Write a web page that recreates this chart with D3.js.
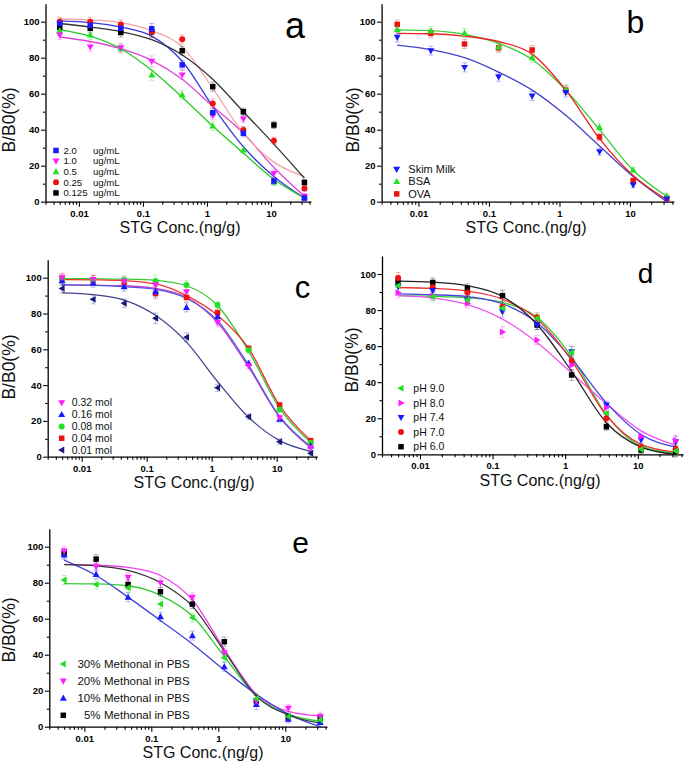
<!DOCTYPE html>
<html><head><meta charset="utf-8">
<script src="https://cdn.jsdelivr.net/npm/d3@7"></script>
<style>body{margin:0;background:#fff;} svg{display:block;font-family:"Liberation Sans",Arial,sans-serif;}</style>
</head><body><svg id="chart" width="689" height="765"></svg>
<script>
// ---------- shared ----------
const conc = [0.005, 0.015, 0.045, 0.137, 0.41, 1.23, 3.7, 11.1, 33.3];
const xTickValues = [0.01, 0.1, 1, 10];
const xTickLabels = ["0.01", "0.1", "1", "10"];
const yTickValues = [0, 20, 40, 60, 80, 100];
const yTickLabels = ["0", "20", "40", "60", "80", "100"];
const xTitleText = "STG Conc.(ng/g)";
const yTitleText = "B/B0(%)";

// ---------- panel a ----------
const aNames = ["2.0", "1.0", "0.5", "0.25", "0.125"];
const aUnit = "ug/mL";
const a20 = [99, 98, 96.3, 96, 76, 49.4, 38, 11.5, 2];
const a20Fit = [100.5, 99.5, 97, 92, 78, 53, 30.5, 14, 2];
const a10 = [92.6, 86, 85.5, 78, 70.4, 48, 46, 15.7, 3];
const a10Fit = [91.5, 89, 85, 78.5, 68, 53, 38, 19, 3];
const a05 = [95, 92.6, 85, 70.4, 59.3, 42, 28.7, 11, 2.5];
const a05Fit = [95.5, 92, 85, 73, 58, 42, 27, 12.5, 2];
const a025 = [100, 100, 98.5, 94.4, 90.2, 54.6, 39.8, 33.9, 7.4];
const a025Fit = [101.5, 101, 99.5, 95, 86, 63, 38, 22, 14];
const a0125 = [96.9, 96.3, 94, 94.4, 83.9, 63.9, 50, 42.6, 10.7];
const a0125Fit = [99, 97, 94.5, 90, 81.5, 68, 50, 32, 13];
const aErr = [2.5, 2.5, 2.5, 3, 2.5, 2.5, 2, 2, 1.5];

// ---------- panel b ----------
const bNames = ["Skim Milk", "BSA", "OVA"];
const bSkim = [91.3, 83.9, 74.6, 69.4, 58.7, 60.7, 27.8, 9.3, 1.5];
const bSkimFit = [87, 84.5, 80, 72, 62, 48, 31, 14, 0];
const bBSA = [95.7, 94.8, 93.7, 86, 80, 62.4, 41.3, 17.6, 3.1];
const bBSAFit = [95.5, 95, 93, 88, 79, 62, 40, 17.5, 3];
const bOVA = [98.5, 93.5, 87.6, 85.5, 84.3, 62, 36, 11.7, 1.8];
const bOVAFit = [93.5, 93.3, 92, 89, 82, 62, 35, 14.5, 1];
const bErr = [2.5, 2.5, 2.5, 2.5, 2.5, 2.5, 2, 1.5, 1.5];

// ---------- panel c ----------
const cNames = ["0.32 mol", "0.16 mol", "0.08 mol", "0.04 mol", "0.01 mol"];
const c032 = [100, 99, 98, 96, 92.2, 74.9, 50.8, 21.8, 5];
const c032Fit = [96, 95.8, 95.5, 94, 89, 75, 50, 22, 5];
const c016 = [98.3, 97.2, 95, 92.2, 83.4, 78.2, 52.1, 20.9, 6];
const c016Fit = [96, 95.7, 95, 93.5, 88.5, 76, 51, 22.5, 5.5];
const c008 = [99, 98.7, 98.7, 98.1, 95.9, 84.7, 59.6, 26.4, 7.8];
const c008Fit = [99.5, 99.4, 99.2, 98.5, 95.5, 84.5, 59, 27, 8];
const c004 = [99.6, 98.7, 97.4, 91.2, 89, 80.4, 60.5, 28.9, 8.9];
const c004Fit = [99, 98.8, 98.3, 96.5, 90, 79, 60.5, 28.5, 9];
const c001 = [94, 87.9, 85.7, 77.3, 66.7, 38.5, 22.3, 8.4, 1.9];
const c001Fit = [91.5, 90.5, 87.5, 79, 64, 42, 22, 9, 3];
const cErr = [2.5, 2.5, 2.5, 3, 2.5, 2, 1.5, 1.5, 1.5];

// ---------- panel d ----------
const dNames = ["pH 9.0", "pH 8.0", "pH 7.4", "pH 7.0", "pH 6.0"];
const d90 = [93.5, 87.4, 85.6, 81, 75.4, 56.6, 22.7, 2.8, 1.8];
const d90Fit = [88, 87.6, 86.8, 84.2, 76, 54, 22, 4.5, 0.5];
const d80 = [89.6, 87.8, 83.7, 67.8, 63.4, 49.5, 26, 9.8, 7.6];
const d80Fit = [88, 86.8, 83, 75, 62, 45, 28, 13, 5];
const d74 = [93, 90.8, 85.6, 79.1, 71.7, 56.9, 27.4, 8, 7];
const d74Fit = [89, 88.5, 87.5, 83.5, 73, 53, 28.5, 11, 4];
const d70 = [97.8, 92.6, 89.8, 81.9, 76, 51.8, 20, 3.9, 2.8];
const d70Fit = [92.5, 92, 90.5, 86, 75, 52, 21.5, 5.5, 1.2];
const d60 = [96, 95.3, 92, 88, 71.7, 44, 15.3, 2.4, 1.5];
const d60Fit = [96, 95.5, 93.5, 87.5, 72, 46, 17.5, 4, 0];
const dErr = [3, 2.5, 2.5, 3, 2.5, 3, 2, 2, 3];

// ---------- panel e ----------
const ePct = ["30%", "20%", "10%", "5%"];
const eRest = "Methonal in PBS";
const e30 = [81.5, 79, 77.2, 68.1, 60.6, 38.3, 15.7, 5.6, 3.7];
const e30Fit = [79.5, 79.3, 78.3, 73, 61.5, 39, 17, 7, 3];
const e20 = [97.6, 88.9, 83, 80, 71.9, 41.1, 14.4, 10.2, 5.6];
const e20Fit = [90.2, 89.8, 88.5, 84, 70.5, 43, 18, 8.5, 6];
const e10 = [95.4, 84.6, 71.9, 61.1, 50.6, 33.3, 12.4, 4.1, 2.4];
const e10Fit = [92.5, 84, 72, 59, 46, 31.5, 18, 7, 0];
const e5 = [96.3, 93.1, 79, 75, 68.1, 47.2, 14.4, 5.2, 4.6];
const e5Fit = [90, 89.3, 86.8, 80, 67, 42, 17, 6.5, 2];
const eErr = [2.5, 2.5, 2.5, 2.5, 2.5, 2.5, 3, 2, 2.5];

// ---------- colours ----------
const C = {
  blue: "#1a1aff", magenta: "#ff1aff", green: "#22e022", red: "#ee1111",
  black: "#000000", navy: "#1a1a7a"
};

// ---------- drawing ----------
const svg = d3.select("#chart");

const shapes = {
  square: s => `M${-s/2},${-s/2}h${s}v${s}h${-s}Z`,
  triUp: s => `M0,${-s*0.6}L${s*0.58},${s*0.42}L${-s*0.58},${s*0.42}Z`,
  triDown: s => `M0,${s*0.6}L${s*0.58},${-s*0.42}L${-s*0.58},${-s*0.42}Z`,
  triLeft: s => `M${-s*0.6},0L${s*0.42},${-s*0.58}L${s*0.42},${s*0.58}Z`,
  triRight: s => `M${s*0.6},0L${-s*0.42},${-s*0.58}L${-s*0.42},${s*0.58}Z`,
  circle: s => `M${-s/2},0A${s/2},${s/2} 0 1,0 ${s/2},0A${s/2},${s/2} 0 1,0 ${-s/2},0Z`
};
const MS = 6;

function marker(g, shape, color, x, y) {
  g.append("path").attr("d", shapes[shape](shape === "square" ? 5.5 : MS))
    .attr("transform", `translate(${x},${y})`).attr("fill", color);
}

function drawPanel(cfg) {
  const g = svg.append("g");
  const x = d3.scaleLog().domain([0.003, 42]).range([cfg.left, cfg.left + cfg.width]);
  const unit = (cfg.y0 - cfg.y100) / 100;
  const y = d3.scaleLinear().domain([0, 110]).range([cfg.y0, cfg.y0 - 110 * unit]);

  // axes
  const minorX = [];
  [0.001, 0.01, 0.1, 1, 10].forEach(dec => {
    for (let k = 2; k <= 9; k++) { const v = k * dec; if (v >= 0.003 && v <= 42) minorX.push(v); }
  });
  const gx = g.append("g").attr("transform", `translate(0,${cfg.y0})`);
  gx.call(d3.axisBottom(x).tickValues(xTickValues).tickFormat((d, i) => xTickLabels[i])
      .tickSize(5).tickSizeOuter(0).tickPadding(3.3));
  gx.append("g").call(d3.axisBottom(x).tickValues(minorX).tickFormat("").tickSize(3).tickSizeOuter(0))
    .select(".domain").remove();
  const gy = g.append("g").attr("transform", `translate(${cfg.left},0)`);
  gy.call(d3.axisLeft(y).tickValues(yTickValues).tickFormat((d, i) => yTickLabels[i])
      .tickSize(4.5).tickSizeOuter(0).tickPadding(1.5));
  gy.append("g").call(d3.axisLeft(y).tickValues([10, 30, 50, 70, 90]).tickFormat("").tickSize(2.5).tickSizeOuter(0))
    .select(".domain").remove();
  g.selectAll(".domain").attr("stroke", "#000").attr("stroke-width", 1.3);
  g.selectAll(".tick line").attr("stroke", "#000").attr("stroke-width", 1.1);
  g.selectAll(".tick text").attr("font-size", 9.5).attr("font-weight", "bold")
    .attr("font-family", "'Liberation Sans', Arial, sans-serif").attr("fill", "#000");

  // titles
  g.append("text").attr("x", cfg.xTitleX).attr("y", cfg.y0 + 31.5).attr("text-anchor", "middle")
    .attr("font-size", 16).attr("fill", "#111").text(xTitleText);
  g.append("text").attr("transform", `translate(${cfg.yTitleX},${cfg.yTitleY}) rotate(-90)`)
    .attr("text-anchor", "middle").attr("dy", "0.35em").attr("font-size", 17.5).attr("fill", "#111").text(yTitleText);
  g.append("text").attr("x", cfg.label.x).attr("y", cfg.label.y).attr("text-anchor", "middle")
    .attr("font-size", cfg.label.size).attr("fill", "#000").text(cfg.label.text);

  // curves
  const line = d3.line().x((d, i) => x(conc[i])).y(d => y(d)).curve(d3.curveMonotoneX);
  cfg.series.forEach(s => {
    g.append("path").attr("d", line(s.fit)).attr("fill", "none")
      .attr("stroke", s.lineColor).attr("stroke-width", 1.3);
  });
  // error bars
  cfg.series.forEach(s => {
    s.values.forEach((v, i) => {
      const e = s.err[i], cx = x(conc[i]);
      const eg = g.append("g").attr("stroke", s.color).attr("stroke-opacity", 0.3).attr("stroke-width", 1);
      eg.append("line").attr("x1", cx).attr("x2", cx).attr("y1", y(v - e)).attr("y2", y(v + e));
      eg.append("line").attr("x1", cx - 2.5).attr("x2", cx + 2.5).attr("y1", y(v - e)).attr("y2", y(v - e));
      eg.append("line").attr("x1", cx - 2.5).attr("x2", cx + 2.5).attr("y1", y(v + e)).attr("y2", y(v + e));
    });
  });
  // markers
  cfg.series.slice().reverse().forEach(s => {
    s.values.forEach((v, i) => marker(g, s.shape, s.color, x(conc[i]), y(v)));
  });

  // legend
  const L = cfg.legend;
  cfg.series.forEach((s, i) => {
    const ly = L.y + i * L.dy;
    marker(g, s.shape, s.color, L.mx, ly);
    L.draw(g, s, i, ly);
  });
}

function legText(g, x, y, txt, anchor, size) {
  g.append("text").attr("x", x).attr("y", y).attr("dy", "0.35em").attr("font-size", size)
    .attr("text-anchor", anchor || "start").attr("fill", "#111").text(txt);
}

drawPanel({
  left: 45.5, width: 265.4, y0: 201.7, y100: 21.7,
  xTitleX: 180, yTitleX: 9, yTitleY: 120,
  label: { text: "a", x: 295, y: 38, size: 36 },
  series: [
    { name: aNames[0], values: a20, fit: a20Fit, err: aErr, shape: "square", color: C.blue, lineColor: "#3b3bdd" },
    { name: aNames[1], values: a10, fit: a10Fit, err: aErr, shape: "triDown", color: C.magenta, lineColor: "#dd44dd" },
    { name: aNames[2], values: a05, fit: a05Fit, err: aErr, shape: "triUp", color: C.green, lineColor: "#22cc22" },
    { name: aNames[3], values: a025, fit: a025Fit, err: aErr, shape: "circle", color: C.red, lineColor: "#f4a4a4" },
    { name: aNames[4], values: a0125, fit: a0125Fit, err: aErr, shape: "square", color: C.black, lineColor: "#333333" }
  ],
  legend: { mx: 56, y: 150.5, dy: 10.6, draw: (g, s, i, ly) => { legText(g, 63.5, ly, s.name, "start", 9.6); legText(g, 93, ly, aUnit, "start", 9.6); } }
});

drawPanel({
  left: 381.6, width: 292.3, y0: 201.7, y100: 21.7,
  xTitleX: 526, yTitleX: 353, yTitleY: 120,
  label: { text: "b", x: 635.5, y: 33, size: 32 },
  series: [
    { name: bNames[0], values: bSkim, fit: bSkimFit, err: bErr, shape: "triDown", color: C.blue, lineColor: "#4444cc" },
    { name: bNames[1], values: bBSA, fit: bBSAFit, err: bErr, shape: "triUp", color: C.green, lineColor: "#33cc33" },
    { name: bNames[2], values: bOVA, fit: bOVAFit, err: bErr, shape: "square", color: C.red, lineColor: "#ee2222" }
  ],
  legend: { mx: 396.7, y: 169.3, dy: 12.3, draw: (g, s, i, ly) => legText(g, 408.3, ly, s.name, "start", 11) }
});

drawPanel({
  left: 47.7, width: 269.5, y0: 456.7, y100: 277.7,
  xTitleX: 194, yTitleX: 9, yTitleY: 367,
  label: { text: "c", x: 302.5, y: 298.3, size: 31 },
  series: [
    { name: cNames[0], values: c032, fit: c032Fit, err: cErr, shape: "triDown", color: C.magenta, lineColor: "#cc44cc" },
    { name: cNames[1], values: c016, fit: c016Fit, err: cErr, shape: "triUp", color: C.blue, lineColor: "#5555dd" },
    { name: cNames[2], values: c008, fit: c008Fit, err: cErr, shape: "circle", color: C.green, lineColor: "#33cc33" },
    { name: cNames[3], values: c004, fit: c004Fit, err: cErr, shape: "square", color: C.red, lineColor: "#ee3333" },
    { name: cNames[4], values: c001, fit: c001Fit, err: cErr, shape: "triLeft", color: C.navy, lineColor: "#44448f" }
  ],
  legend: { mx: 61.7, y: 402.7, dy: 11.85, draw: (g, s, i, ly) => legText(g, 71.7, ly, s.name, "start", 10.5) }
});

drawPanel({
  left: 382, width: 301, y0: 454.3, y100: 274,
  xTitleX: 540, yTitleX: 352, yTitleY: 360,
  label: { text: "d", x: 645.5, y: 283, size: 28 },
  series: [
    { name: dNames[0], values: d90, fit: d90Fit, err: dErr, shape: "triLeft", color: C.green, lineColor: "#33cc33" },
    { name: dNames[1], values: d80, fit: d80Fit, err: dErr, shape: "triRight", color: C.magenta, lineColor: "#ee55ee" },
    { name: dNames[2], values: d74, fit: d74Fit, err: dErr, shape: "triDown", color: C.blue, lineColor: "#4444dd" },
    { name: dNames[3], values: d70, fit: d70Fit, err: dErr, shape: "circle", color: C.red, lineColor: "#ee3333" },
    { name: dNames[4], values: d60, fit: d60Fit, err: dErr, shape: "square", color: C.black, lineColor: "#222222" }
  ],
  legend: { mx: 401, y: 388.3, dy: 14.6, draw: (g, s, i, ly) => legText(g, 413.3, ly, s.name, "start", 10.5) }
});

drawPanel({
  left: 49.3, width: 277.7, y0: 726.7, y100: 546.7,
  xTitleX: 203, yTitleX: 9, yTitleY: 630,
  label: { text: "e", x: 300.5, y: 553, size: 30 },
  series: [
    { name: ePct[0], values: e30, fit: e30Fit, err: eErr, shape: "triLeft", color: C.green, lineColor: "#33cc33" },
    { name: ePct[1], values: e20, fit: e20Fit, err: eErr, shape: "triDown", color: C.magenta, lineColor: "#ee44ee" },
    { name: ePct[2], values: e10, fit: e10Fit, err: eErr, shape: "triUp", color: C.blue, lineColor: "#4444dd" },
    { name: ePct[3], values: e5, fit: e5Fit, err: eErr, shape: "square", color: C.black, lineColor: "#333333" }
  ],
  legend: { mx: 63.3, y: 664, dy: 17.1, draw: (g, s, i, ly) => { legText(g, 100.5, ly, s.name, "end", 11.5); legText(g, 104, ly, eRest, "start", 11.5); } }
});
</script>
</body></html>
